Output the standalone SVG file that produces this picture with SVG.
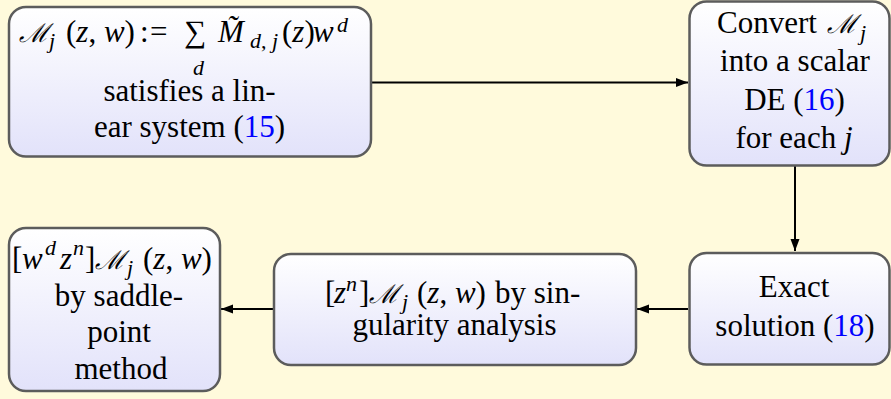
<svg xmlns="http://www.w3.org/2000/svg" width="891" height="399" viewBox="0 0 891 399">
<style>
text, tspan { font-family: 'Liberation Serif', 'Times New Roman', serif !important; }
</style>
<defs>
<linearGradient id="g" x1="0" y1="0" x2="0" y2="1">
<stop offset="0" stop-color="#ffffff"/>
<stop offset="1" stop-color="#e2e2fa"/>
</linearGradient>
<marker id="ah" markerUnits="userSpaceOnUse" markerWidth="13" markerHeight="10" refX="12" refY="4.5" orient="auto">
<path d="M0,0 L12,4.5 L0,9 z" fill="#000"/>
</marker>
</defs>
<rect width="891" height="399" fill="#fffadc"/>
<g id="connectors" stroke="#000" stroke-width="2" fill="none" marker-end="url(#ah)">
<line x1="372" y1="82.5" x2="688" y2="82.5"/>
<line x1="795" y1="166" x2="795" y2="251"/>
<line x1="688" y1="309" x2="637" y2="309"/>
<line x1="273" y1="309" x2="221" y2="309"/>
</g>
<g id="n1" font-family="Liberation Serif, serif" style="font-family:'Liberation Serif',serif">
<rect fill="url(#g)" stroke="#5c5c5c" stroke-width="2.5" x="9" y="7" width="362" height="149.5" rx="17"/>
<text font-style="italic" font-size="26" x="19" y="42">&#x2133;</text>
<text font-style="italic" font-size="22" x="49" y="48">j</text>
<text font-size="31" x="66" y="42">(<tspan font-style="italic">z</tspan>, <tspan font-style="italic">w</tspan>)</text>
<text font-size="31" x="140" y="42">:</text>
<text font-size="31" x="150" y="42">=</text>
<text font-size="31" x="184" y="42">&#x2211;</text>
<text font-style="italic" font-size="22" x="193" y="75">d</text>
<text font-style="italic" font-size="31" x="218" y="42">M&#x303;</text>
<text font-size="22" x="250" y="48"><tspan font-style="italic">d</tspan>, <tspan font-style="italic">j</tspan></text>
<text font-size="31" x="282" y="42">(<tspan font-style="italic">z</tspan>)</text>
<text font-style="italic" font-size="31" x="313" y="42">w</text>
<text font-style="italic" font-size="22" x="337" y="32">d</text>
<text font-size="31" text-anchor="middle" x="189.5" y="101">satisfies a lin-</text>
<text font-size="31" text-anchor="middle" x="189.5" y="137">ear system (<tspan fill="#0000ff">15</tspan>)</text>
</g>
<g id="n2" font-family="Liberation Serif, serif" style="font-family:'Liberation Serif',serif">
<rect fill="url(#g)" stroke="#5c5c5c" stroke-width="2.5" x="689.5" y="1.5" width="200" height="164" rx="17"/>
<text font-size="31" x="717" y="33">Convert</text>
<text font-style="italic" font-size="26" x="827" y="33">&#x2133;</text>
<text font-style="italic" font-size="22" x="860" y="40">j</text>
<text font-size="31" text-anchor="middle" x="795" y="71">into a scalar</text>
<text font-size="31" text-anchor="middle" x="794.5" y="110">DE (<tspan fill="#0000ff">16</tspan>)</text>
<text font-size="31" text-anchor="middle" x="794" y="148">for each <tspan font-style="italic">j</tspan></text>
</g>
<g id="n3" font-family="Liberation Serif, serif" style="font-family:'Liberation Serif',serif">
<rect fill="url(#g)" stroke="#5c5c5c" stroke-width="2.5" x="689.5" y="253" width="200" height="111.5" rx="17"/>
<text font-size="31" text-anchor="middle" x="794" y="297">Exact</text>
<text font-size="31" text-anchor="middle" x="795" y="336">solution (<tspan fill="#0000ff">18</tspan>)</text>
</g>
<g id="n4" font-family="Liberation Serif, serif" style="font-family:'Liberation Serif',serif">
<rect fill="url(#g)" stroke="#5c5c5c" stroke-width="2.5" x="274" y="254" width="362" height="111" rx="17"/>
<text font-size="31" x="325" y="303">[</text>
<text font-style="italic" font-size="31" x="334" y="303">z</text>
<text font-style="italic" font-size="22" x="346" y="291">n</text>
<text font-size="31" x="359" y="303">]</text>
<text font-style="italic" font-size="26" x="369" y="303">&#x2133;</text>
<text font-style="italic" font-size="22" x="402" y="309">j</text>
<text font-size="31" x="417" y="303">(<tspan font-style="italic">z</tspan>, <tspan font-style="italic">w</tspan>)</text>
<text font-size="31" x="495" y="303">by sin-</text>
<text font-size="31" text-anchor="middle" x="454.5" y="335">gularity analysis</text>
</g>
<g id="n5" font-family="Liberation Serif, serif" style="font-family:'Liberation Serif',serif">
<rect fill="url(#g)" stroke="#5c5c5c" stroke-width="2.5" x="9" y="228" width="211" height="163" rx="17"/>
<text font-size="31" x="12" y="269">[</text>
<text font-style="italic" font-size="31" x="22" y="269">w</text>
<text font-style="italic" font-size="22" x="45" y="255">d</text>
<text font-style="italic" font-size="31" x="60" y="269">z</text>
<text font-style="italic" font-size="22" x="73" y="255">n</text>
<text font-size="31" x="85" y="269">]</text>
<text font-style="italic" font-size="26" x="95" y="269">&#x2133;</text>
<text font-style="italic" font-size="22" x="127" y="275">j</text>
<text font-size="31" x="143" y="269">(<tspan font-style="italic">z</tspan>, <tspan font-style="italic">w</tspan>)</text>
<text font-size="31" text-anchor="middle" x="119" y="305.5">by saddle-</text>
<text font-size="31" text-anchor="middle" x="119" y="342">point</text>
<text font-size="31" text-anchor="middle" x="121" y="379">method</text>
</g>
</svg>
